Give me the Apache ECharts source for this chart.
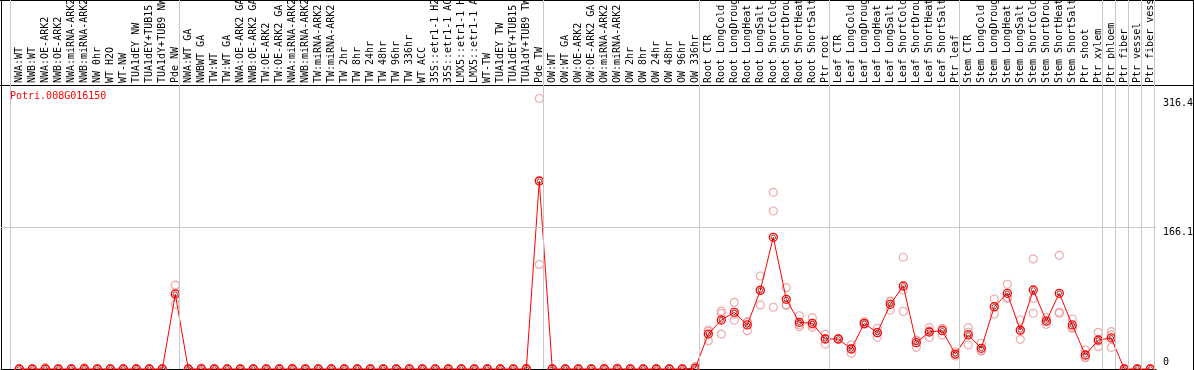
<!DOCTYPE html>
<html><head><meta charset="utf-8">
<script src="https://cdn.jsdelivr.net/npm/echarts@6/dist/echarts.min.js"></script>
<style>html,body{margin:0;padding:0;background:#fff}#c{width:1194px;height:370px}</style>
</head><body><div id="c"></div>
<script>
const title = 'Potri.008G016150';
const categories = [
  'NWA:WT','NWB:WT','NWA:OE-ARK2','NWB:OE-ARK2','NWA:miRNA-ARK2','NWB:miRNA-ARK2','NW 0hr','WT H2O','WT-NW','TUA1dEY NW',
  'TUA1dEY+TUB15 NW','TUA1dY+TUB9 NW','Pde NW','NWA:WT GA','NWBWT GA','TW:WT','TW:WT GA','NWA:OE-ARK2 GA','NWB:OE-ARK2 GA','TW:OE-ARK2',
  'TW:OE-ARK2 GA','NWA:miRNA-ARK2 GA','NWB:miRNA-ARK2 GA','TW:miRNA-ARK2','TW:miRNA-ARK2 GA','TW 2hr','TW 8hr','TW 24hr','TW 48hr','TW 96hr',
  'TW 336hr','WT ACC','35S::etr1-1 H2O','35S::etr1-1 ACC','LMX5::etr1-1 H2O','LMX5::etr1-1 ACC','WT-TW','TUA1dEY TW','TUA1dEY+TUB15 TW','TUA1dY+TUB9 TW',
  'Pde TW','OW:WT','OW:WT GA','OW:OE-ARK2','OW:OE-ARK2 GA','OW:miRNA-ARK2','OW:miRNA-ARK2 GA','OW 2hr','OW 8hr','OW 24hr',
  'OW 48hr','OW 96hr','OW 336hr','Root CTR','Root LongCold','Root LongDrought','Root LongHeat','Root LongSalt','Root ShortCold','Root ShortDrought',
  'Root ShortHeat','Root ShortSalt','Ptr root','Leaf CTR','Leaf LongCold','Leaf LongDrought','Leaf LongHeat','Leaf LongSalt','Leaf ShortCold','Leaf ShortDrought',
  'Leaf ShortHeat','Leaf ShortSalt','Ptr leaf','Stem CTR','Stem LongCold','Stem LongDrought','Stem LongHeat','Stem LongSalt','Stem ShortCold','Stem ShortDrought',
  'Stem ShortHeat','Stem ShortSalt','Ptr shoot','Ptr xylem','Ptr phloem','Ptr fiber','Ptr vessel','Ptr fiber vessel'
];
const groupSizes = [13, 28, 12, 10, 10, 11, 1, 1, 1, 1];
const meanValues = [
  0,0,0,0,0,0,0,0,0,0,
  0,0,87.5,0,0,0,0,0,0,0,
  0,0,0,0,0,0,0,0,0,0,
  0,0,0,0,0,0,0,0,0,0,
  219.8,0,0,0,0,0,0,0,0,0,
  0,0,1,40.9,57.3,66.3,51.5,92,154,81.5,
  54.6,53.4,35.1,35.1,23.4,53.4,42.5,75.7,97.1,30.8,
  43.3,44.8,17.5,39.8,24.2,72.9,88.5,45.6,92.4,56.1,
  88.5,51.5,16.4,33.9,36.3,0,0,0
];
const rep1 = [
  0,0,1.5,0,0,1.5,0,0,0,0,
  0,0,98,0,1,0,0,0,0,0,
  0,1,0,0,0,0,0,0,0,0,
  0,0,0,0,0,0,0,0,0,1,
  316.4,0,0,0,0,1,1,0,0,0,
  0,0,2.7,45.6,67.8,78,55.3,108.8,206.7,95.1,
  62.3,60,40.6,35.1,28.1,55.3,47.6,78.7,130.7,33.9,
  48.3,47.6,20.2,48.3,30.1,81.9,99.1,57.3,128.7,60,
  133,58.5,22.2,42.9,43.6,0,0,0
];
const rep2 = [
  0,0,0,0,0,0,0,0,0,0,
  0,0,75.7,0,0,0,0,0,0,0,
  0,0,0,0,0,0,0,0,0,0,
  0,0,0,0,0,0,0,0,0,0,
  122.3,0,0,0,0,0,0,0,0,0,
  0,0,0.3,33.1,65,57,44.8,74.9,184.8,74.9,
  49.5,48.8,29.2,35.1,18.3,52.5,37.1,69,92.4,25.4,
  37.1,39.8,15.2,28.1,21.1,64.3,82.7,34.7,82.7,52.3,
  66.3,48.3,13.7,26.1,25.4,0,0,0
];
const rep3 = [
  0,0,0,0,0,0,0,0,0,0,
  0,0,88.8,0,0,0,0,0,0,0,
  0,0,0,0,0,0,0,0,0,0,
  0,0,0,0,0,0,0,0,0,0,
  220.7,0,0,0,0,0,0,0,0,0,
  0,0,0,44,40.9,63.9,54.4,92.3,72.2,74.5,
  52,51.4,35.5,35.1,23.8,52.4,42.8,79.4,67.5,33.1,
  44.5,47,17.1,43,21.4,72.5,83.7,44.8,65.2,56,
  65.2,47.7,13.3,32.7,39.9,0,0,0
];
const yTickLabels = [166.1, 316.4];
const yZeroLabel = [0];
const gridLineValue = 166.1;

const FONT = 'DejaVu Sans Mono';
const X_MIN = -0.4077, X_MAX = 88.439, BOUND_SHIFT = 0.2846, Y_MAX = 431.6;
const xs = categories.map((_, i) => i + 1);
const boundaries = [0];
groupSizes.reduce((acc, s) => { acc += s; boundaries.push(acc); return acc; }, 0);
const repData = [];
[rep1, rep2, rep3].forEach(r => r.forEach((v, i) => repData.push([i + 1, v])));
const meanData = meanValues.map((v, i) => [i + 1, v]);

const chart = echarts.init(document.getElementById('c'), null, {renderer: 'canvas'});
chart.setOption({
  animation: false,
  backgroundColor: '#fff',
  title: { text: title, left: 10, top: 91, padding: 0,
    textStyle: { color: '#ff0000', fontFamily: FONT, fontSize: 10, fontWeight: 'normal' } },
  grid: { left: 1, right: 38, top: 0, bottom: 1, containLabel: false, outerBoundsMode: 'none' },
  xAxis: [
    { type: 'value', position: 'top', offset: -85, min: X_MIN, max: X_MAX,
      axisLine: { show: false }, axisTick: { show: false }, splitLine: { show: false },
      axisLabel: { customValues: xs, rotate: 90, margin: 2, padding: [3, 0, 0, 0], fontFamily: FONT, fontSize: 10, color: '#000',
        formatter: v => categories[Math.round(v) - 1] || '' } },
    { type: 'value', position: 'bottom', min: X_MIN, max: X_MAX,
      axisLine: { show: true, lineStyle: { color: '#000', width: 1 } },
      axisTick: { show: false }, axisLabel: { show: false }, splitLine: { show: false } }
  ],
  yAxis: [
    { type: 'value', position: 'right', min: 0, max: Y_MAX,
      axisLine: { show: false }, axisTick: { show: false }, splitLine: { show: false },
      axisLabel: { customValues: yTickLabels, margin: 7, verticalAlign: 'top', fontFamily: FONT, fontSize: 10, color: '#000',
        formatter: v => String(v) } },
    { type: 'value', position: 'right', min: 0, max: Y_MAX,
      axisLine: { show: false }, axisTick: { show: false }, splitLine: { show: false },
      axisLabel: { customValues: yZeroLabel, margin: 7, verticalAlign: 'bottom', padding: [0, 0, 2, 0], fontFamily: FONT, fontSize: 10, color: '#000',
        formatter: v => String(v) } }
  ],
  series: [
    { type: 'line', data: [], z: 1, silent: true,
      markLine: { silent: true, symbol: 'none', animation: false, label: { show: false },
        lineStyle: { color: '#c8c8c8', width: 1, type: 'solid' },
        emphasis: { disabled: true },
        data: [{ yAxis: gridLineValue }].concat(boundaries.map(b => ({ xAxis: b + BOUND_SHIFT }))) } },
    { type: 'scatter', data: repData, symbol: 'circle', symbolSize: 8, clip: false, silent: true, z: 2,
      itemStyle: { color: 'rgba(0,0,0,0)', borderColor: '#eb9595', borderWidth: 1.2 } },
    { type: 'line', data: meanData, symbol: 'circle', symbolSize: 8, showSymbol: true, clip: false, silent: true, z: 3,
      lineStyle: { color: '#ff0000', width: 1 },
      itemStyle: { color: 'rgba(0,0,0,0)', borderColor: '#ff0000', borderWidth: 1.3 } },
    { type: 'scatter', data: meanData, symbol: 'circle', symbolSize: 4.5, clip: false, silent: true, z: 4,
      itemStyle: { color: 'rgba(0,0,0,0)', borderColor: '#600000', borderWidth: 0.9 } }
  ],
  graphic: [
    { type: 'line', silent: true, shape: { x1: 0, y1: 0.5, x2: 1194, y2: 0.5 }, style: { stroke: '#000', lineWidth: 1 } },
    { type: 'line', silent: true, shape: { x1: 0, y1: 85.5, x2: 1194, y2: 85.5 }, style: { stroke: '#000', lineWidth: 1 } },
    { type: 'line', silent: true, shape: { x1: 1.5, y1: 0, x2: 1.5, y2: 370 }, style: { stroke: '#000', lineWidth: 1 } },
    { type: 'line', silent: true, shape: { x1: 1193.5, y1: 0, x2: 1193.5, y2: 370 }, style: { stroke: '#000', lineWidth: 1 } }
  ]
});
</script></body></html>
